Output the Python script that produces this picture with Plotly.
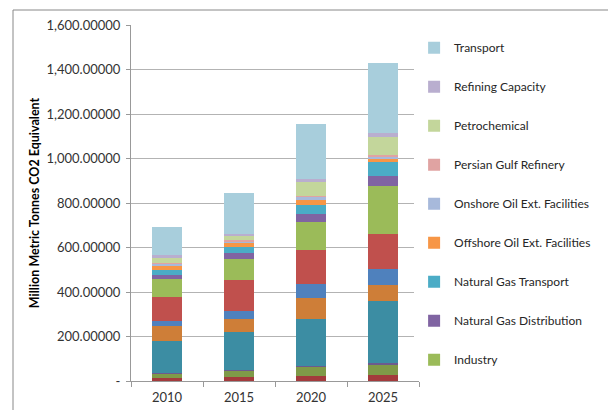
import plotly.graph_objects as go

years = ["2010", "2015", "2020", "2025"]

# Series listed bottom to top of the stack
series_names = [
    "Series A", "Series B", "Series C", "Series D", "Series E", "Series F", "Series G",
    "Industry", "Natural Gas Distribution", "Natural Gas Transport",
    "Offshore Oil Ext. Facilities", "Onshore Oil Ext. Facilities",
    "Persian Gulf Refinery", "Petrochemical", "Refining Capacity", "Transport",
]
series_a = [12, 18, 21, 26]
series_b = [21, 29, 42, 50]
series_c = [5, 4, 4, 4]
series_d = [140, 168, 212, 278]
series_e = [68, 61, 93, 75]
series_f = [22, 36, 63, 69]
series_g = [110, 140, 154, 157]
industry = [81, 92, 126, 216]
ng_distribution = [16, 26, 34, 46]
ng_transport = [22, 28, 44, 62]
offshore = [23, 18, 19, 15]
onshore = [8, 9, 18, 13]
persian_gulf = [3, 3, 3, 3]
petrochemical = [22, 20, 61, 81]
refining = [12, 10, 14, 21]
transport = [126, 181, 249, 312]

series_values = [series_a, series_b, series_c, series_d, series_e, series_f, series_g,
                 industry, ng_distribution, ng_transport, offshore, onshore,
                 persian_gulf, petrochemical, refining, transport]
colors = ["#A33B3C", "#7F9A48", "#6D5A8E", "#3C8DA3", "#CE7E38", "#4F81BD", "#C0504D",
          "#9BBB59", "#8064A2", "#4BACC6", "#F79646", "#A7B9DB",
          "#E0A3A2", "#C3D69B", "#B9AECF", "#A8CEDC"]
shown = [False] * 7 + [True] * 9

ytick_vals = [0, 200, 400, 600, 800, 1000, 1200, 1400, 1600]
ytick_text = ["-", "200.00000", "400.00000", "600.00000", "800.00000", "1,000.00000",
              "1,200.00000", "1,400.00000", "1,600.00000"]

n = len(series_names)
fig = go.Figure()
for i, (name, vals, col, sh) in enumerate(zip(series_names, series_values, colors, shown)):
    fig.add_trace(go.Bar(
        x=years, y=vals, name=name, marker=dict(color=col, line=dict(width=0)),
        showlegend=sh, legendgroup="g%02d" % (n - i), legendrank=(n - i) * 10,
    ))

font = "Lato, Calibri, 'Open Sans', sans-serif"
fig.update_layout(
    barmode="stack",
    bargap=0.58,
    width=608, height=402,
    margin=dict(l=123, r=197, t=17, b=29),
    paper_bgcolor="white", plot_bgcolor="white",
    font=dict(family=font, size=13, color="#333333"),
    legend=dict(
        x=0.983, xanchor="left", y=0.977, yanchor="top",
        traceorder="grouped", tracegroupgap=20,
        font=dict(size=12, color="#262626"),
        itemwidth=30,
    ),
    yaxis=dict(
        range=[0, 1600], tickvals=ytick_vals, ticktext=ytick_text,
        showgrid=True, gridcolor="#B3B3B3", gridwidth=1,
        showline=True, linecolor="#999999", linewidth=1,
        ticks="outside", ticklen=4, tickcolor="#999999",
        ticklabelstandoff=3,
        zeroline=False, automargin=False,
        title=dict(text="<b>Million Metric Tonnes CO2 Equivalent</b>",
                   font=dict(size=12.5, color="#000000"), standoff=4),
    ),
    xaxis=dict(
        showline=True, linecolor="#999999", linewidth=1,
        ticks="outside", ticklen=5, tickcolor="#999999", tickson="boundaries",
        ticklabelstandoff=4,
        showgrid=False, automargin=False,
    ),
    shapes=[
        dict(type="line", xref="paper", yref="paper", x0=-118/288, x1=-118/288,
             y0=-1, y1=1 + 15/356, line=dict(color="#888888", width=1)),
        dict(type="line", xref="paper", yref="paper", x0=-118/288, x1=3,
             y0=1 + 15/356, y1=1 + 15/356, line=dict(color="#888888", width=1)),
    ],
)

fig.write_html("out.html")
